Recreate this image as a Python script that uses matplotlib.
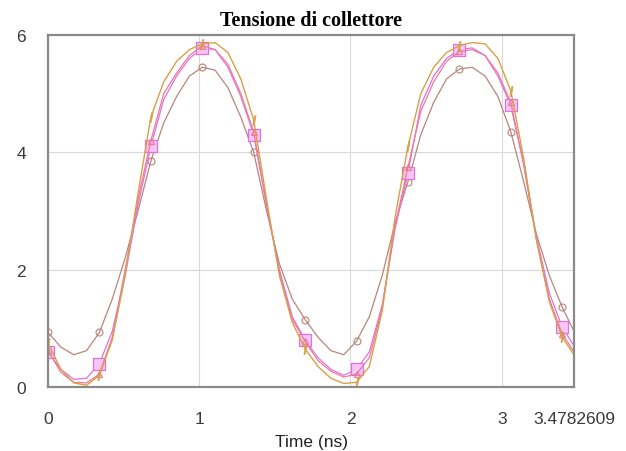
import numpy as np
import matplotlib.pyplot as plt

# ---- DATA ----
T_END = 3.4782609
t_ns = [0.0, 0.085, 0.17, 0.255, 0.34, 0.425, 0.51, 0.595, 0.68, 0.765,
        0.85, 0.935, 1.02, 1.105, 1.19, 1.275, 1.36, 1.445, 1.53, 1.615,
        1.70, 1.785, 1.87, 1.955, 2.04, 2.125, 2.21, 2.295, 2.38, 2.465,
        2.55, 2.635, 2.72, 2.805, 2.89, 2.975, 3.06, 3.145, 3.23, 3.315,
        3.40, T_END]

v_orange = [0.75, 0.30, 0.07, 0.03, 0.20, 0.80, 1.90, 3.30, 4.60, 5.20,
            5.55, 5.75, 5.85, 5.87, 5.70, 5.25, 4.55, 3.20, 1.90, 1.10,
            0.65, 0.35, 0.15, 0.06, 0.08, 0.35, 1.30, 2.90, 4.10, 5.00,
            5.45, 5.70, 5.82, 5.87, 5.85, 5.60, 5.05, 3.90, 2.50, 1.45,
            0.85, 0.55]

v_magenta = [0.60, 0.30, 0.13, 0.15, 0.40, 0.95, 1.90, 3.10, 4.10, 4.90,
             5.30, 5.60, 5.78, 5.75, 5.45, 4.95, 4.30, 3.10, 2.00, 1.20,
             0.80, 0.50, 0.30, 0.20, 0.30, 0.60, 1.40, 2.70, 3.65, 4.80,
             5.30, 5.60, 5.75, 5.78, 5.65, 5.30, 4.80, 3.80, 2.55, 1.60,
             1.02, 0.70]

v_pink = [0.62, 0.25, 0.08, 0.07, 0.22, 0.85, 2.00, 3.20, 4.20, 5.00,
          5.35, 5.65, 5.82, 5.75, 5.50, 5.00, 4.35, 3.10, 1.95, 1.15,
          0.78, 0.45, 0.27, 0.17, 0.22, 0.50, 1.35, 2.75, 3.75, 4.70,
          5.20, 5.55, 5.72, 5.75, 5.65, 5.35, 4.85, 3.80, 2.50, 1.50,
          0.90, 0.60]

v_circle = [0.93, 0.68, 0.55, 0.62, 0.93, 1.50, 2.20, 3.00, 3.85, 4.50,
            4.95, 5.30, 5.45, 5.40, 5.10, 4.60, 4.00, 3.00, 2.10, 1.50,
            1.15, 0.85, 0.62, 0.55, 0.78, 1.20, 1.90, 2.80, 3.50, 4.30,
            4.85, 5.25, 5.42, 5.45, 5.30, 4.95, 4.35, 3.50, 2.60, 1.90,
            1.36, 0.95]

x_ticks = [0, 1, 2, 3, T_END]
x_ticklabels = ['0', '1', '2', '3', '3.4782609']
y_ticks = [0, 2, 4, 6]

fig = plt.figure(figsize=(6.26, 4.52), dpi=100)
ax = fig.add_axes([0.0767, 0.1416, 0.8403, 0.7788])

ax.plot(t_ns, v_circle, color='#b8857a', lw=0.9, marker='o', ms=5,
        mfc='none', mew=0.8, markevery=4, solid_joinstyle='round')
ax.plot(t_ns, v_magenta, color='#e070e0', lw=0.9, marker='s', ms=8,
        mfc='#f6c6f6', mew=0.9, markevery=4, solid_joinstyle='round')
ax.plot(t_ns, v_pink, color='#f07898', lw=0.9, marker='^', ms=5,
        mfc='none', mew=0.9, markevery=4, solid_joinstyle='round')
ax.plot(t_ns, v_orange, color='#d8a048', lw=1.0, marker='$I$', ms=7,
        mew=0.5, markevery=4, solid_joinstyle='round')

ax.set_xlim(0, T_END)
ax.set_ylim(0, 6)
ax.set_xticks(x_ticks)
ax.set_xticklabels(x_ticklabels)
ax.set_yticks(y_ticks)
ax.tick_params(length=0, labelsize=12.5, colors='#3a3a3a')
ax.tick_params(axis='x', pad=17)
ax.tick_params(axis='y', pad=16)
for lbl in ax.get_xticklabels() + ax.get_yticklabels():
    lbl.set_family('Liberation Sans')

ax.grid(True, color='#d8d8d8', lw=0.8)
ax.set_axisbelow(True)
for s in ax.spines.values():
    s.set_color('#8a8a8a')
    s.set_linewidth(1.6)

ax.set_xlabel('Time (ns)', family='Liberation Sans', fontsize=12.5,
              color='#222222', labelpad=6)
ax.set_title('Tensione di collettore', family='Liberation Serif',
             fontweight='bold', fontsize=14.5, pad=7)

fig.savefig('out.png', dpi=100)
